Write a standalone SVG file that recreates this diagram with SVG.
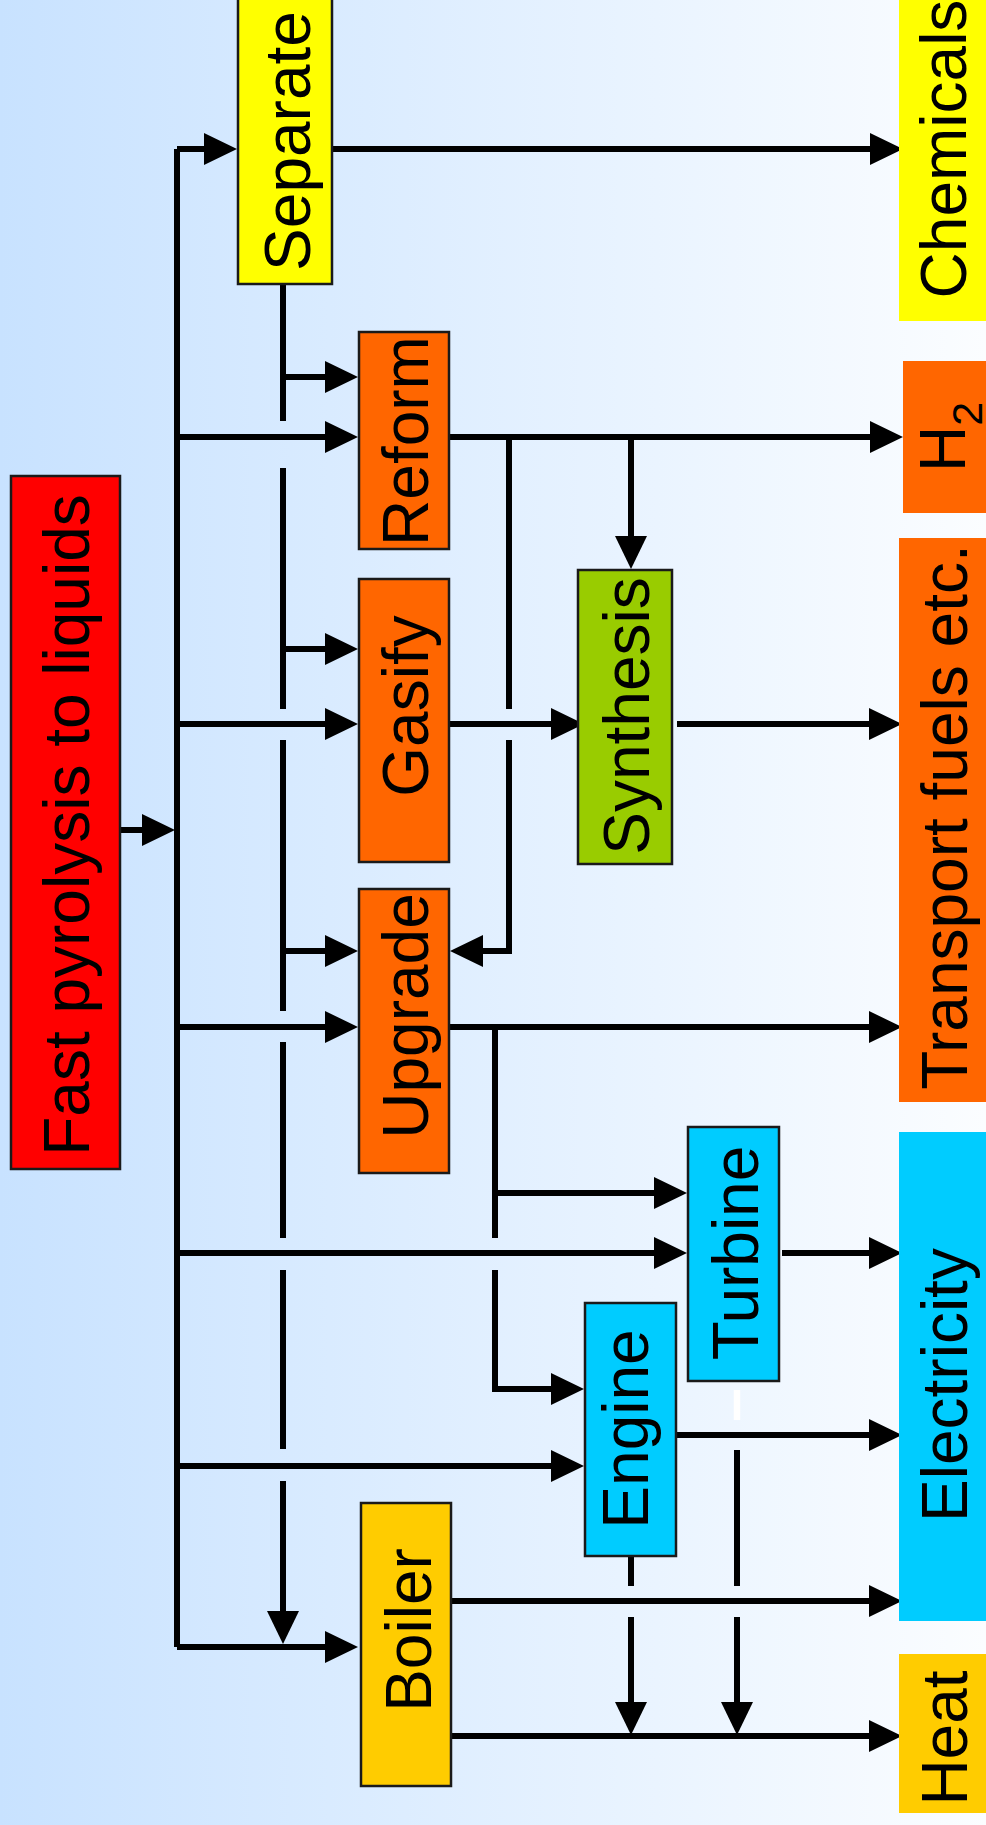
<svg xmlns="http://www.w3.org/2000/svg" width="986" height="1825" viewBox="0 0 986 1825">
<defs>
<linearGradient id="bg" x1="0" y1="0" x2="1" y2="0">
<stop offset="0" stop-color="#c8e2ff"/>
<stop offset="1" stop-color="#fbfdff"/>
</linearGradient>
<marker id="ah" markerUnits="userSpaceOnUse" markerWidth="33" markerHeight="32" refX="18" refY="16" orient="auto" viewBox="0 0 33 32">
<path d="M0,0 L33,16 L0,32 z" fill="#000"/>
</marker>
<style>
.box{stroke:#1a1a1a;stroke-width:2.5}
.lbl{font-family:"Liberation Sans",Arial,sans-serif;font-size:64px;fill:#000;text-anchor:middle}
.c path{fill:none;stroke:#000;stroke-width:6;stroke-linecap:butt;stroke-linejoin:miter}
.c path.a{marker-end:url(#ah)}
</style>
</defs>
<rect x="0" y="0" width="986" height="1825" fill="url(#bg)"/>

<g id="connectors" class="c">
<path d="M177,149 V1647"/>
<path class="a" d="M121,830 H160"/>
<path class="a" d="M177,149 H222"/>
<path class="a" d="M177,437 H343"/>
<path class="a" d="M177,724 H343"/>
<path class="a" d="M177,1027 H343"/>
<path class="a" d="M177,1253 H672"/>
<path class="a" d="M177,1466 H569"/>
<path class="a" d="M177,1647 H343"/>
<path class="a" d="M333,149 H888"/>
<path d="M283,285 V421"/>
<path d="M283,468 V709"/>
<path d="M283,740 V1011"/>
<path d="M283,1042 V1238"/>
<path d="M283,1270 V1449"/>
<path class="a" d="M283,1481 V1629"/>
<path class="a" d="M283,377 H343"/>
<path class="a" d="M283,649 H343"/>
<path class="a" d="M283,951 H343"/>
<path class="a" d="M450,437 H888"/>
<path d="M509,437 V709"/>
<path class="a" d="M509,740 V951 H465"/>
<path class="a" d="M631,437 V554"/>
<path class="a" d="M450,724 H569"/>
<path class="a" d="M677,724 H887"/>
<path class="a" d="M450,1027 H887"/>
<path d="M495,1027 V1238"/>
<path class="a" d="M495,1270 V1389 H569"/>
<path class="a" d="M495,1193 H672"/>
<path class="a" d="M782,1253 H887"/>
<path class="a" d="M677,1435 H887"/>
<path class="a" d="M452,1601 H887"/>
<path class="a" d="M452,1736 H887"/>
<path d="M631,1557 V1586"/>
<path class="a" d="M631,1617 V1720"/>
<path d="M737,1450 V1586"/>
<path class="a" d="M737,1617 V1720"/>
<path d="M737,1390 V1420" style="stroke:#fff;stroke-width:6.5"/>
</g>

<g id="fast-pyrolysis">
<rect class="box" x="11" y="476" width="109" height="693" fill="#ff0000"/>
<text class="lbl" transform="translate(89,825) rotate(-90)">Fast pyrolysis to liquids</text>
</g>
<g id="separate">
<rect class="box" x="238" y="-3" width="94" height="287" fill="#ffff00"/>
<text class="lbl" transform="translate(310,141) rotate(-90)">Separate</text>
</g>
<g id="reform">
<rect class="box" x="359" y="332" width="90" height="217" fill="#ff6600"/>
<text class="lbl" transform="translate(428,441) rotate(-90)">Reform</text>
</g>
<g id="gasify">
<rect class="box" x="359" y="579" width="90" height="283" fill="#ff6600"/>
<text class="lbl" transform="translate(428,706) rotate(-90)">Gasify</text>
</g>
<g id="upgrade">
<rect class="box" x="359" y="889" width="90" height="284" fill="#ff6600"/>
<text class="lbl" transform="translate(428,1016) rotate(-90)">Upgrade</text>
</g>
<g id="synthesis">
<rect class="box" x="578" y="570" width="94" height="294" fill="#99cc00"/>
<text class="lbl" transform="translate(649,716) rotate(-90)">Synthesis</text>
</g>
<g id="turbine">
<rect class="box" x="688" y="1127" width="91" height="254" fill="#00ccff"/>
<text class="lbl" transform="translate(758,1253) rotate(-90)">Turbine</text>
</g>
<g id="engine">
<rect class="box" x="585" y="1303" width="91" height="253" fill="#00ccff"/>
<text class="lbl" transform="translate(648,1429) rotate(-90)">Engine</text>
</g>
<g id="boiler">
<rect class="box" x="361" y="1503" width="90" height="283" fill="#ffcc00"/>
<text class="lbl" transform="translate(431,1630) rotate(-90)">Boiler</text>
</g>

<g id="chemicals">
<rect x="899" y="-5" width="100" height="326" fill="#ffff00"/>
<text class="lbl" transform="translate(966,149) rotate(-90)">Chemicals</text>
</g>
<g id="h2">
<rect x="903" y="361" width="100" height="152" fill="#ff6600"/>
<text class="lbl" transform="translate(965,437) rotate(-90)">H<tspan font-size="43" dy="17">2</tspan></text>
</g>
<g id="transport-fuels">
<rect x="899" y="538" width="100" height="564" fill="#ff6600"/>
<text class="lbl" transform="translate(967,817) rotate(-90)">Transport fuels etc.</text>
</g>
<g id="electricity">
<rect x="899" y="1132" width="100" height="489" fill="#00ccff"/>
<text class="lbl" transform="translate(967,1385) rotate(-90)">Electricity</text>
</g>
<g id="heat">
<rect x="899" y="1654" width="100" height="159" fill="#ffcc00"/>
<text class="lbl" transform="translate(967,1738) rotate(-90)">Heat</text>
</g>
</svg>
